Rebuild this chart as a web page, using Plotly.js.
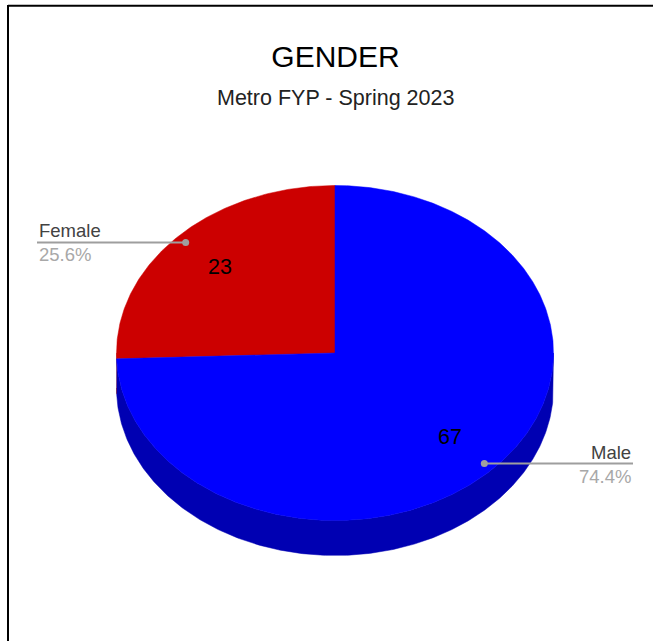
<!DOCTYPE html>
<html>
<head>
<meta charset="utf-8">
<script src="https://cdn.plot.ly/plotly-3.0.1.min.js"></script>
<style>html,body{margin:0;padding:0;background:#fff;}#chart{width:653px;height:641px;}</style>
</head>
<body>
<div id="chart"></div>
<script>
// ---- data ----
const categories = ['Female', 'Male'];
const values = [23, 67];
const topColors = ['#cc0000', '#0000ff'];
const sideColors = ['#8f0000', '#0000b2'];
const chartTitle = 'GENDER';
const chartSubtitle = 'Metro FYP - Spring 2023';

// ---- geometry (pixel layout of the tilted pie) ----
const W = 653, H = 641;
const CX = 335, CY = 353;      // ellipse centre in px
const RX = 218.5, RY = 167.5;   // ellipse radii in px
const DEPTH = 35 / RY;          // side depth in y-units
const xr = [-CX / RX, (W - CX) / RX];
const yr = [-(H - CY) / RY, CY / RY];
const leftEnd = (37 - CX) / RX, rightEnd = (633 - CX) / RX;
const FONT = '"Liberation Sans", Arial, sans-serif';

const total = values.reduce((a, b) => a + b, 0);
const deg = Math.PI / 180;

function arc(a1, a2, dy) {
  const xs = [], ys = [];
  const n = Math.max(2, Math.ceil(Math.abs(a2 - a1) * 2));
  for (let i = 0; i <= n; i++) {
    const a = (a1 + (a2 - a1) * i / n) * deg;
    xs.push(Math.cos(a)); ys.push(Math.sin(a) + dy);
  }
  return {xs, ys};
}

// slice angles: start at 12 o'clock, counter-clockwise
const slices = [];
let start = 90;
values.forEach((v, i) => {
  const span = 360 * v / total;
  slices.push({a1: start, a2: start + span, mid: start + span / 2, i});
  start += span;
});

const traces = [];
// sides (front half only)
slices.forEach(s => {
  for (let k = 0; k < 2; k++) {
    const lo = Math.max(s.a1, 180 + 360 * k), hi = Math.min(s.a2, 360 + 360 * k);
    if (hi > lo) {
      const t = arc(lo, hi, 0), b = arc(hi, lo, -DEPTH);
      traces.push({type: 'scatter', mode: 'lines', fill: 'toself',
        x: t.xs.concat(b.xs), y: t.ys.concat(b.ys),
        fillcolor: sideColors[s.i], line: {width: 0.5, color: sideColors[s.i]}, hoverinfo: 'skip'});
    }
  }
});
// top faces
slices.forEach(s => {
  const a = arc(s.a1, s.a2, 0);
  traces.push({type: 'scatter', mode: 'lines', fill: 'toself',
    x: [0].concat(a.xs, [0]), y: [0].concat(a.ys, [0]),
    fillcolor: topColors[s.i], line: {width: 0.5, color: topColors[s.i]}, hoverinfo: 'skip'});
});

const annotations = [];
slices.forEach(s => {
  const m = s.mid * deg;
  const dx = 0.95 * Math.cos(m), dy = 0.95 * Math.sin(m);
  const left = Math.cos(m) < 0;
  const end = left ? leftEnd : rightEnd;
  traces.push({type: 'scatter', mode: 'lines', x: [dx, end], y: [dy, dy],
    line: {color: '#9e9e9e', width: 2}, hoverinfo: 'skip'});
  traces.push({type: 'scatter', mode: 'markers', x: [dx], y: [dy],
    marker: {color: '#9e9e9e', size: 7}, hoverinfo: 'skip'});
  const pct = (100 * values[s.i] / total).toFixed(1) + '%';
  annotations.push({x: end, y: dy, xref: 'x', yref: 'y', text: categories[s.i],
    showarrow: false, xanchor: left ? 'left' : 'right', yanchor: 'bottom', yshift: -1,
    font: {family: FONT, size: 18.5, color: '#424242'}});
  annotations.push({x: end, y: dy, xref: 'x', yref: 'y', text: pct,
    showarrow: false, xanchor: left ? 'left' : 'right', yanchor: 'top', yshift: 0,
    font: {family: FONT, size: 18.5, color: '#a8a8a8'}});
  // value label
  annotations.push({x: 0.73 * Math.cos(m), y: 0.73 * Math.sin(m), xref: 'x', yref: 'y',
    text: String(values[s.i]), showarrow: false, xanchor: 'center', yanchor: 'middle', yshift: 1,
    font: {family: FONT, size: 21.5, color: '#000000'}});
});

annotations.push({x: 335.5 / W, y: 1 - 98 / H, xref: 'paper', yref: 'paper', text: chartSubtitle,
  showarrow: false, xanchor: 'center', yanchor: 'middle',
  font: {family: FONT, size: 21.5, color: '#222222'}});

const layout = {
  width: W, height: H, autosize: false,
  margin: {l: 0, r: 0, t: 0, b: 0, pad: 0},
  paper_bgcolor: '#ffffff', plot_bgcolor: '#ffffff',
  showlegend: false,
  title: {text: chartTitle, x: 335.5 / W, xanchor: 'center', xref: 'paper',
    y: 1 - 56 / H, yanchor: 'middle', yref: 'container',
    font: {family: FONT, size: 30, color: '#000000'}},
  xaxis: {range: xr, visible: false, fixedrange: true},
  yaxis: {range: yr, visible: false, fixedrange: true},
  annotations: annotations,
  shapes: [
    {type: 'line', xref: 'paper', yref: 'paper', x0: 8 / W, x1: 1.05, y0: 1 - 5.7 / H, y1: 1 - 5.7 / H,
      line: {color: '#000000', width: 2}},
    {type: 'line', xref: 'paper', yref: 'paper', x0: 8 / W, x1: 8 / W, y0: 1 - 5 / H, y1: -0.05,
      line: {color: '#000000', width: 2}}
  ]
};

Plotly.newPlot('chart', traces, layout, {staticPlot: true, displayModeBar: false});
</script>
</body>
</html>
